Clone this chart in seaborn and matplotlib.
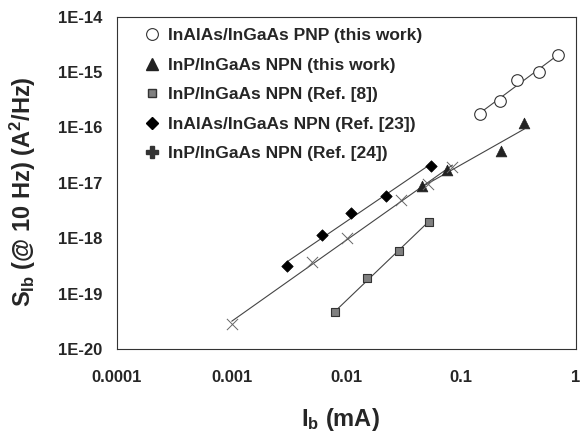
import numpy as np
import pandas as pd
import matplotlib
matplotlib.use("Agg")
import matplotlib.pyplot as plt
import seaborn as sns
from matplotlib.lines import Line2D
from matplotlib.ticker import LogLocator, FixedLocator, NullFormatter

# ---- data ----
pnp_this_x = [0.145, 0.218, 0.306, 0.478, 0.70]
pnp_this_y = [1.78e-16, 3.05e-16, 7.3e-16, 1.02e-15, 2.06e-15]

npn_this_x = [0.0458, 0.0755, 0.221, 0.354]
npn_this_y = [8.6e-18, 1.7e-17, 3.7e-17, 1.22e-16]

ref8_x = [0.0080, 0.0150, 0.0287, 0.052]
ref8_y = [4.6e-20, 1.88e-19, 5.8e-19, 2.0e-18]

ref23_x = [0.00303, 0.00614, 0.011, 0.0222, 0.0542]
ref23_y = [3.1e-19, 1.15e-18, 2.84e-18, 5.8e-18, 2.02e-17]

ref24_x = [0.001, 0.005, 0.010, 0.0297, 0.0513, 0.0838]
ref24_y = [2.8e-20, 3.8e-19, 1.0e-18, 4.9e-18, 9.6e-18, 1.92e-17]

labels = ["InAlAs/InGaAs PNP (this work)",
          "InP/InGaAs NPN (this work)",
          "InP/InGaAs NPN (Ref. [8])",
          "InAlAs/InGaAs NPN (Ref. [23])",
          "InP/InGaAs NPN (Ref. [24])"]

xticks = [0.0001, 0.001, 0.01, 0.1, 1]
xticklabels = ["0.0001", "0.001", "0.01", "0.1", "1"]
yticks = [1e-20, 1e-19, 1e-18, 1e-17, 1e-16, 1e-15, 1e-14]
yticklabels = ["1E-20", "1E-19", "1E-18", "1E-17", "1E-16", "1E-15", "1E-14"]

# ---- style ----
sns.set_theme(style="white")
plt.rcParams["font.family"] = ["Liberation Sans", "DejaVu Sans"]
plt.rcParams["font.weight"] = "bold"
plt.rcParams["mathtext.fontset"] = "custom"
plt.rcParams["mathtext.rm"] = "Liberation Sans:bold"
plt.rcParams["mathtext.it"] = "Liberation Sans:bold"
plt.rcParams["mathtext.bf"] = "Liberation Sans:bold"

fig = plt.figure(figsize=(5.84, 4.33), dpi=100)
ax = fig.add_axes([117/584, 1-349/433, (576-117)/584, (349-16.7)/433])

series = [
    (pnp_this_x, pnp_this_y, dict(marker="o", s=70, facecolor="white", edgecolor="#333333", linewidth=0.8)),
    (npn_this_x, npn_this_y, dict(marker="^", s=60, facecolor="#222222", edgecolor="#222222", linewidth=0.5)),
    (ref8_x, ref8_y, dict(marker="s", s=30, facecolor="#808080", edgecolor="#333333", linewidth=0.8)),
    (ref23_x, ref23_y, dict(marker="D", s=34, facecolor="black", edgecolor="black", linewidth=0.5)),
    (ref24_x, ref24_y, dict(marker="x", s=65, color="#666666", linewidth=0.7)),
]

for (xs, ys, kw), lab in zip(series, labels):
    df = pd.DataFrame({"x": xs, "y": ys})
    # power-law fit line through the series
    lx, ly = np.log10(xs), np.log10(ys)
    k, b = np.polyfit(lx, ly, 1)
    fx = np.array([min(xs), max(xs)])
    fy = 10 ** (k * np.log10(fx) + b)
    sns.lineplot(x=fx, y=fy, ax=ax, color="#444444", linewidth=0.8, legend=False)
    sns.scatterplot(data=df, x="x", y="y", ax=ax, legend=False, zorder=3, **kw)

ax.set_xscale("log")
ax.set_yscale("log")
ax.set_xlim(0.0001, 1)
ax.set_ylim(1e-20, 1e-14)

ax.xaxis.set_major_locator(FixedLocator(xticks))
ax.set_xticklabels(xticklabels, fontsize=12, fontweight="bold")
ax.yaxis.set_major_locator(FixedLocator(yticks))
ax.set_yticklabels(yticklabels, fontsize=12, fontweight="bold")
ax.xaxis.set_minor_locator(LogLocator(base=10, subs=np.arange(2, 10), numticks=20))
ax.yaxis.set_minor_locator(LogLocator(base=10, subs=np.arange(2, 10), numticks=20))
ax.xaxis.set_minor_formatter(NullFormatter())
ax.yaxis.set_minor_formatter(NullFormatter())
ax.tick_params(which="major", direction="in", length=5, width=0.6, color="#333333",
               top=False, right=False)
ax.tick_params(axis="x", which="major", pad=15)
ax.tick_params(axis="y", which="major", pad=10.5)
ax.tick_params(which="minor", direction="in", length=3, width=0.5, color="#333333",
               top=False, right=False)

for sp in ax.spines.values():
    sp.set_linewidth(0.8)
    sp.set_color("#333333")

ax.set_xlabel(r"I$_\mathrm{b}$ (mA)", fontsize=17, fontweight="bold")
ax.set_ylabel(r"S$_\mathrm{Ib}$ (@ 10 Hz) (A$^\mathrm{2}$/Hz)", fontsize=17, fontweight="bold")
ax.xaxis.set_label_coords(0.486, -0.172)
ax.yaxis.set_label_coords(-0.172, 0.475)

handles = [
    Line2D([], [], linestyle="none", marker="o", markersize=8.5, markerfacecolor="white", markeredgecolor="#333333", markeredgewidth=0.8),
    Line2D([], [], linestyle="none", marker="^", markersize=8.5, markerfacecolor="#222222", markeredgecolor="#222222"),
    Line2D([], [], linestyle="none", marker="s", markersize=6, markerfacecolor="#808080", markeredgecolor="#333333"),
    Line2D([], [], linestyle="none", marker="D", markersize=6, markerfacecolor="black", markeredgecolor="black"),
    Line2D([], [], linestyle="none", marker="P", markersize=8.5, markerfacecolor="#333333", markeredgecolor="#333333"),
]
leg = ax.legend(handles, labels, loc="upper left", bbox_to_anchor=(0.039, 0.987),
                frameon=False, fontsize=12.5, handletextpad=0.3, labelspacing=0.83,
                handlelength=1.2, borderaxespad=0.0)
for t in leg.get_texts():
    t.set_fontweight("bold")

fig.savefig("out.png", dpi=100)
